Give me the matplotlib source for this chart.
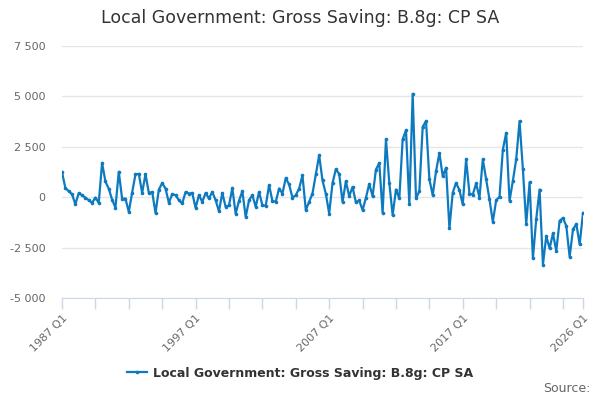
import matplotlib
matplotlib.use("Agg")
import matplotlib.pyplot as plt
from matplotlib.lines import Line2D

# 数据：1987 Q1 - 2026 Q1 季度值
first_year = 1987
last_year = 2026
quarters = [f"{y} Q{q}" for y in range(first_year, last_year + 1) for q in range(1, 5)]
quarters = quarters[:quarters.index("2026 Q1") + 1]

values = [
    1250, 460, 300, 150, -350, 200, 100, -20, -150, -280,
    -20, -280, 1700, 780, 420, -120, -520, 1260, -70, -70,
    -730, 230, 1130, 1160, 210, 1150, 210, 260, -780, 380,
    700, 430, -280, 150, 100, -150, -310, 260, 180, 210,
    -530, 100, -230, 210, -60, 260, -150, -700, 210, -480,
    -400, 450, -820, -180, 300, -980, -150, 100, -480, 260,
    -400, -430, 600, -180, -230, 430, 180, 950, 630, -20,
    100, 430, 1080, -640, -230, 180, 1130, 2080, 830, 170,
    -810, 700, 1390, 1150, -240, 790, 50, 510, -260, -160,
    -640, -30, 660, 50, 1370, 1700, -780, 2870, 710, -890,
    380, -60, 2870, 3320, -360, 5130, -60, 300, 3490, 3780,
    890, 100, 1290, 2190, 1040, 1460, -1550, 230, 710, 350,
    -360, 1880, 180, 130, 680, -20, 1880, 880, -110, -1220,
    -150, 20, 2360, 3190, -180, 810, 1880, 3770, 1390, -1330,
    730, -3040, -1080, 380, -3340, -1930, -2540, -1800, -2660, -1170,
    -1030, -1430, -2960, -1600, -1330, -2340, -780,
]

y_ticks = [-5000, -2500, 0, 2500, 5000, 7500]
label_quarters = ["1987 Q1", "1997 Q1", "2007 Q1", "2017 Q1", "2026 Q1"]

title = "Local Government: Gross Saving: B.8g: CP SA"
series_name = "Local Government: Gross Saving: B.8g: CP SA"
line_color = "#0d7ac0"

plt.rcParams['font.family'] = ['DejaVu Sans']

fig = plt.figure(figsize=(6, 4), dpi=100)
ax = fig.add_axes([62 / 600, 1 - 298 / 400, 521 / 600, 252 / 400])

for s in ['top', 'right', 'left']:
    ax.spines[s].set_visible(False)
ax.spines['bottom'].set_color('#ccd6eb')

x = list(range(len(quarters)))
ax.plot(x, values, color=line_color, lw=1.6, marker='o', markersize=2.6,
        markeredgewidth=0, zorder=3)

ax.set_xlim(0, len(quarters) - 1)
ax.set_ylim(y_ticks[0], y_ticks[-1])

# y 轴：网格线 + 空格千分位
ax.set_yticks(y_ticks)
ax.set_yticklabels([f"{v:,}".replace(",", " ") for v in y_ticks])
ax.tick_params(axis='y', length=0, labelsize=8, colors='#666666', pad=12)
ax.grid(axis='y', color='#e6e6e6', lw=1)
ax.set_axisbelow(True)

# x 轴：每 10 个季度一个刻度，最后加一个
tick_pos = list(range(0, len(quarters), 10))
if tick_pos[-1] != len(quarters) - 1:
    tick_pos.append(len(quarters) - 1)
ax.set_xticks(tick_pos)
ax.set_xticklabels([quarters[i] if quarters[i] in label_quarters else "" for i in tick_pos],
                   rotation=45, ha='right', va='top', rotation_mode='anchor')
ax.tick_params(axis='x', length=8, width=1, color='#ccd6eb', labelsize=8,
               labelcolor='#666666', pad=3)

fig.text(0.5, 1 - 18 / 400, title, ha='center', va='center', fontsize=12.5, color='#333333')

handle = Line2D([], [], color=line_color, lw=1.6, marker='o', markersize=2.6, markeredgewidth=0)
fig.legend([handle], [series_name], loc='center', bbox_to_anchor=(0.5, 1 - 373 / 400),
           frameon=False, prop={'weight': 'bold', 'size': 9}, labelcolor='#333333',
           handlelength=1.6, handletextpad=0.5)

fig.text(590 / 600, 1 - 389 / 400, "Source:", ha='right', va='center', fontsize=9, color='#666666')

fig.savefig("out.png", dpi=100)
